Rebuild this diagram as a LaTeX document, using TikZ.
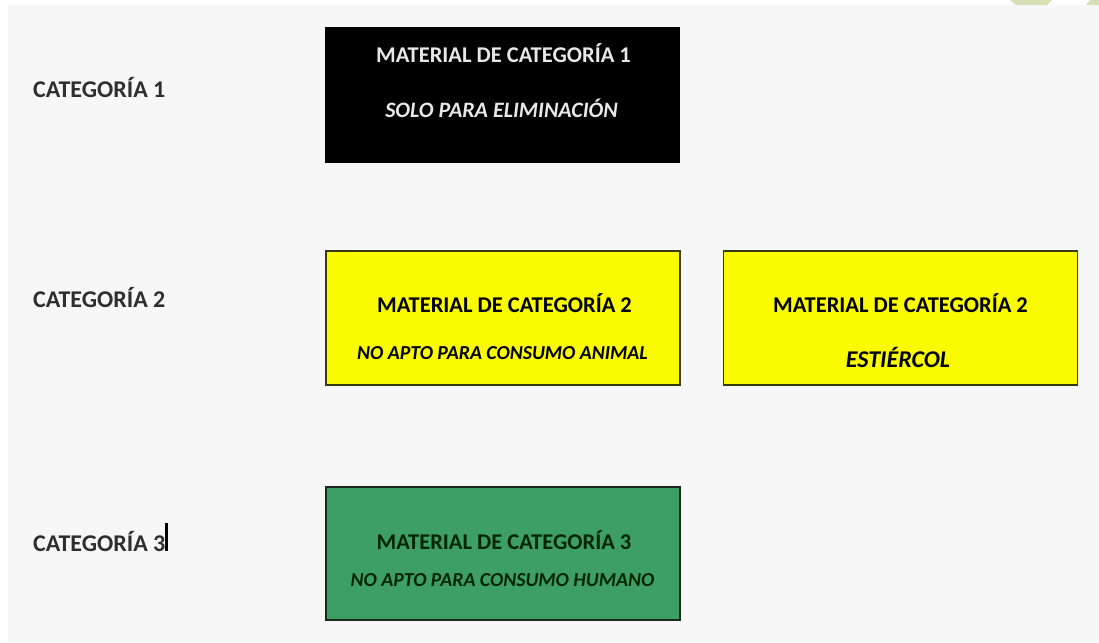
\documentclass[tikz,border=0pt]{standalone}
\usepackage{fontspec}
\setmainfont{Carlito}
\definecolor{bgray}{HTML}{F7F7F7}
\definecolor{wmgreen}{HTML}{D5E0B5}
\definecolor{yel}{HTML}{FAFA00}
\definecolor{yelborder}{HTML}{3A3A10}
\definecolor{grn}{HTML}{3D9E66}
\definecolor{grnborder}{HTML}{1A2A1A}
\definecolor{labgray}{HTML}{2E2E2E}
\definecolor{ltext}{HTML}{E8E8E8}
\begin{document}
\begin{tikzpicture}[x=1pt,y=-1pt,
  catlabel/.style={anchor=west,inner sep=0pt,font=\bfseries\fontsize{24}{28}\selectfont,text=labgray},
  matbox/.style={draw,line width=1.8pt,minimum width=354pt,minimum height=134pt,inner sep=0pt},
  title/.style={inner sep=0pt,font=\bfseries\fontsize{22.5}{26}\selectfont},
  subtitle/.style={inner sep=0pt,font=\bfseries\itshape\fontsize{22}{26}\selectfont},
  subsmall/.style={inner sep=0pt,font=\bfseries\itshape\fontsize{19.8}{23}\selectfont},
  subbig/.style={inner sep=0pt,font=\bfseries\itshape\fontsize{24}{28}\selectfont}]
\useasboundingbox (0,0) rectangle (1099,642);
\fill[white] (0,0) rectangle (1099,642);
\fill[bgray] (8,5) rectangle (1099,642);
\fill[wmgreen] (1010,0) -- (1052,0) -- (1047,5) -- (1016,5) -- cycle;
\fill[wmgreen] (1090,0) -- (1099,0) -- (1099,5) -- (1086,5) -- cycle;

\node[catlabel] (c1) at (33,88) {CATEGORÍA 1};
\node[catlabel] (c2) at (33,298) {CATEGORÍA 2};
\node[catlabel] (c3) at (33,541) {CATEGORÍA 3};
\coordinate (curtop) at (166.5,523);
\coordinate (curbot) at (166.5,551);
\draw[line width=2.5pt,black] (curtop) -- (curbot);

\node[matbox,fill=black,draw=black] (b1) at (502.5,95) {};
\node[title,text=ltext] (b1t) at (503.5,53) {MATERIAL DE CATEGORÍA 1};
\node[subtitle,text=ltext] (b1s) at (501.5,108) {SOLO PARA ELIMINACIÓN};

\node[matbox,fill=yel,draw=yelborder] (b2) at (503,318) {};
\node[title,text=black] (b2t) at (504.5,303) {MATERIAL DE CATEGORÍA 2};
\node[subsmall,text=black] (b2s) at (502.5,353) {NO APTO PARA CONSUMO ANIMAL};

\node[matbox,fill=yel,draw=yelborder] (b3) at (900.5,318) {};
\node[title,text=black] (b3t) at (900.5,303) {MATERIAL DE CATEGORÍA 2};
\node[subbig,text=black] (b3s) at (898,357) {ESTIÉRCOL};

\node[matbox,fill=grn,draw=grnborder,minimum height=133pt] (b4) at (503,553.5) {};
\node[title,text=black!85!green] (b4t) at (504,540) {MATERIAL DE CATEGORÍA 3};
\node[subsmall,text=black!85!green] (b4s) at (502.5,580) {NO APTO PARA CONSUMO HUMANO};
\end{tikzpicture}
\end{document}
